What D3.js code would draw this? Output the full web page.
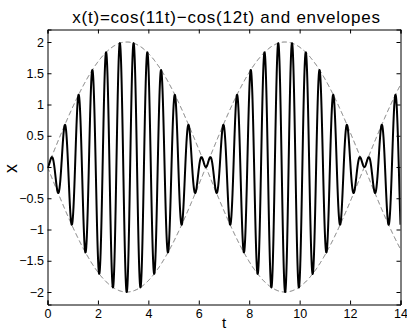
<!DOCTYPE html>
<html><head><meta charset="utf-8">
<script src="https://cdn.jsdelivr.net/npm/d3@7"></script>
<style>body{margin:0;background:#fff}svg{display:block}text{font-family:Arial,"Liberation Sans",sans-serif}</style>
</head><body><svg id="c" width="407" height="331"></svg>
<script>
// Data: the chart is defined by its title x(t)=cos(11t)-cos(12t), envelopes ±2 sin(t/2)
const tDomain = [0, 14];
const xDomain = [-2.2, 2.2];
const freqs = [11, 12];
const xTicks = [0, 2, 4, 6, 8, 10, 12, 14];
const yTicks = [-2, -1.5, -1, -0.5, 0, 0.5, 1, 1.5, 2];
const yTickLabels = ["\u22122", "\u22121.5", "\u22121", "\u22120.5", "0", "0.5", "1", "1.5", "2"];
const nSamples = 2800;
const tValues = d3.range(nSamples + 1).map(i => tDomain[0] + (tDomain[1] - tDomain[0]) * i / nSamples);
const signal = tValues.map(t => [t, Math.cos(freqs[0] * t) - Math.cos(freqs[1] * t)]);
const envUpper = tValues.map(t => [t, 2 * Math.sin(t / 2)]);
const envLower = tValues.map(t => [t, -2 * Math.sin(t / 2)]);

const svg = d3.select("#c");
const L = 47.5, R = 400.5, T = 29.5, B = 304.5;
const x = d3.scaleLinear().domain(tDomain).range([L, R]);
const y = d3.scaleLinear().domain(xDomain).range([B, T]);

svg.append("defs").append("clipPath").attr("id", "clip")
  .append("rect").attr("x", L).attr("y", T).attr("width", R - L).attr("height", B - T);

const line = d3.line().x(d => x(d[0])).y(d => y(d[1]));
const g = svg.append("g").attr("clip-path", "url(#clip)");
g.append("path").datum(envUpper).attr("d", line).attr("fill", "none")
  .attr("stroke", "#555").attr("stroke-width", 0.8).attr("stroke-dasharray", "5,3");
g.append("path").datum(envLower).attr("d", line).attr("fill", "none")
  .attr("stroke", "#555").attr("stroke-width", 0.8).attr("stroke-dasharray", "5,3");
g.append("path").datum(signal).attr("d", line).attr("fill", "none")
  .attr("stroke", "#000").attr("stroke-width", 2).attr("stroke-linejoin", "round");

// axes
const fs = 12.5;
const axB = svg.append("g").attr("transform", `translate(0,${B})`)
  .call(d3.axisBottom(x).tickValues(xTicks).tickSize(-4).tickPadding(4.5).tickFormat(d3.format("d")));
const axT = svg.append("g").attr("transform", `translate(0,${T})`)
  .call(d3.axisTop(x).tickValues(xTicks).tickSize(-4).tickFormat(""));
const axL = svg.append("g").attr("transform", `translate(${L},0)`)
  .call(d3.axisLeft(y).tickValues(yTicks).tickSize(-4).tickPadding(3.5).tickFormat((d, i) => yTickLabels[i]));
const axR = svg.append("g").attr("transform", `translate(${R},0)`)
  .call(d3.axisRight(y).tickValues(yTicks).tickSize(-4).tickFormat(""));
[axB, axT, axL, axR].forEach(a => {
  a.select(".domain").attr("stroke", "#000").attr("stroke-width", 1);
  a.selectAll(".tick line").attr("stroke", "#000");
  a.selectAll("text").attr("font-size", fs).attr("fill", "#000")
    .style("font-family", "Arial, 'Liberation Sans', sans-serif");
});

svg.append("text").attr("x", 226.5).attr("y", 22.5).attr("text-anchor", "middle")
  .attr("font-size", 17).attr("letter-spacing", 0.75).text("x(t)=cos(11t)\u2212cos(12t) and envelopes");
svg.append("text").attr("x", (L + R) / 2).attr("y", 328).attr("text-anchor", "middle")
  .attr("font-size", 15).text("t");
svg.append("text").attr("transform", `translate(17.3,${(T + B) / 2 + 1.5}) rotate(-90)`)
  .attr("text-anchor", "middle").attr("font-size", 18).text("x");
</script></body></html>
